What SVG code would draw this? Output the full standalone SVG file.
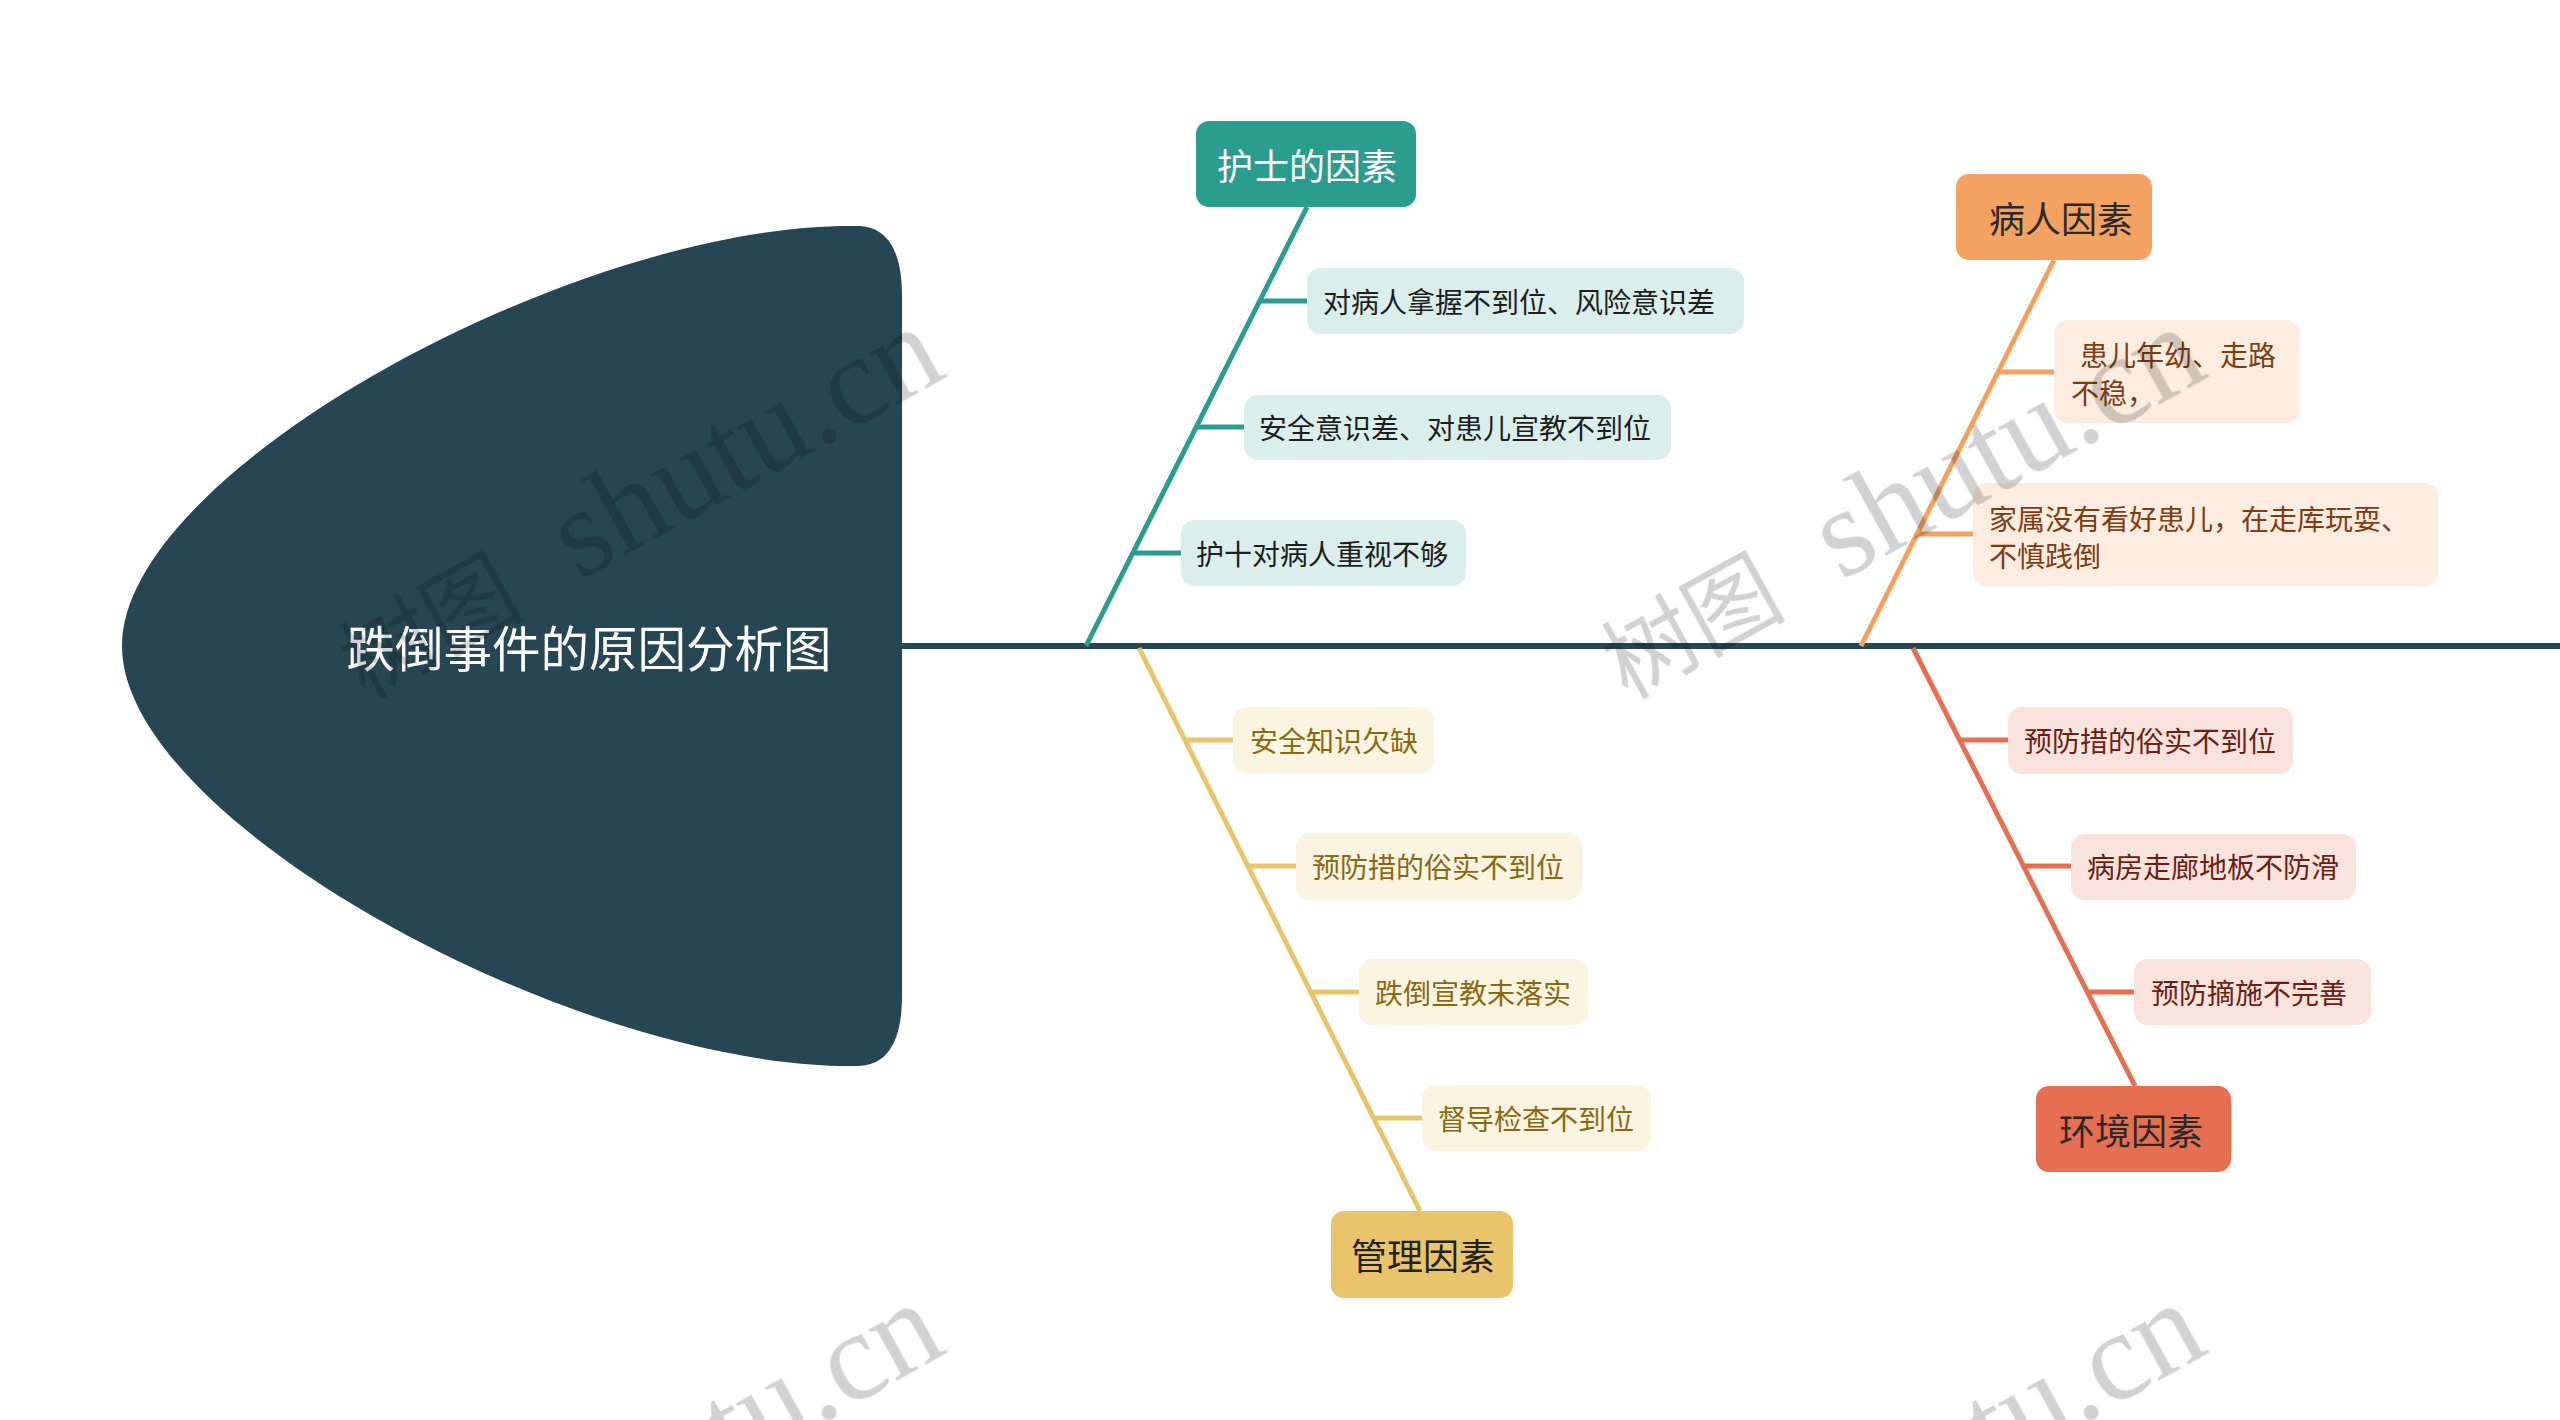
<svg xmlns="http://www.w3.org/2000/svg" width="2560" height="1420" viewBox="0 0 2560 1420">
<style>
text { font-family: "Noto Sans CJK SC", "Noto Sans", sans-serif; dominant-baseline: central; }
.topic { font-size: 36px; text-anchor: middle; }
.sub { font-size: 28px; }
.ln { fill: none; stroke-width: 5; stroke-linecap: butt; }
.teal { stroke: #2a9d8f; }
.yel { stroke: #e9c46a; }
.org { stroke: #f4a261; }
.red { stroke: #e76f51; }
.bt { fill: #daeeeb; }
.by { fill: #fbf4e1; }
.bo { fill: #fdede0; }
.br { fill: #fae3dd; }
.tt { fill: #1e1e1e; }
.ty { fill: #8a6914; }
.to { fill: #7d3c12; }
.tr { fill: #6b1f14; }
.wm { fill: #d2d2d2; }
#watermarks { mix-blend-mode: multiply; }
</style>
<defs>
<g id="wmark">
<text class="wm" transform="rotate(-29)" style="dominant-baseline: alphabetic"><tspan font-size="92" font-family="Noto Sans CJK SC, sans-serif">树图</tspan><tspan x="245" font-size="126" font-family="Liberation Serif, serif">shutu.cn</tspan></text>
</g>
</defs>
<rect width="2560" height="1420" fill="#ffffff"/>

<g id="connectors">
<line x1="902" y1="646" x2="2560" y2="646" stroke="#264653" stroke-width="6"/>
<line class="ln teal" x1="1086" y1="646" x2="1307" y2="207"/>
<line class="ln teal" x1="1260" y1="301" x2="1307" y2="301"/>
<line class="ln teal" x1="1196" y1="427" x2="1244" y2="427"/>
<line class="ln teal" x1="1133" y1="553" x2="1181" y2="553"/>
<line class="ln yel" x1="1139" y1="648" x2="1420" y2="1211"/>
<line class="ln yel" x1="1185" y1="740" x2="1233" y2="740"/>
<line class="ln yel" x1="1248" y1="866" x2="1296" y2="866"/>
<line class="ln yel" x1="1311" y1="992" x2="1359" y2="992"/>
<line class="ln yel" x1="1374" y1="1118" x2="1422" y2="1118"/>
<line class="ln org" x1="1861" y1="646" x2="2054" y2="260"/>
<line class="ln org" x1="1998" y1="372" x2="2054" y2="372"/>
<line class="ln org" x1="1917" y1="534" x2="1973" y2="534"/>
<line class="ln red" x1="1913" y1="648" x2="2135" y2="1086"/>
<line class="ln red" x1="1960" y1="740" x2="2008" y2="740"/>
<line class="ln red" x1="2024" y1="866" x2="2071" y2="866"/>
<line class="ln red" x1="2088" y1="992" x2="2134" y2="992"/>
</g>

<g id="head">
<path d="M 857,226 C 580,222 122,470 122,646 C 122,822 580,1070 857,1066 C 885,1066 902,1045 902,996 L 902,296 C 902,247 885,226 857,226 Z" fill="#264653"/>
<text x="589" y="646" font-size="48.5" fill="#ffffff" text-anchor="middle">跌倒事件的原因分析图</text>
</g>

<g id="nurse">
<rect x="1196" y="121" width="220" height="86" rx="13" fill="#2a9d8f"/>
<text class="topic" x="1307" y="164" fill="#ffffff">护士的因素</text>
</g>
<g id="nurse-1">
<rect class="bt" x="1307" y="268" width="437" height="66" rx="14"/>
<text class="sub tt" x="1323" y="301">对病人拿握不到位、风险意识差</text>
</g>
<g id="nurse-2">
<rect class="bt" x="1244" y="395" width="427" height="65" rx="14"/>
<text class="sub tt" x="1259" y="427">安全意识差、对患儿宣教不到位</text>
</g>
<g id="nurse-3">
<rect class="bt" x="1181" y="520" width="285" height="66" rx="14"/>
<text class="sub tt" x="1196" y="553">护十对病人重视不够</text>
</g>

<g id="management">
<rect x="1331" y="1211" width="182" height="87" rx="13" fill="#e9c46a"/>
<text class="topic" x="1423" y="1254" fill="#222222">管理因素</text>
</g>
<g id="management-1">
<rect class="by" x="1233" y="707" width="201" height="67" rx="14"/>
<text class="sub ty" x="1250" y="740">安全知识欠缺</text>
</g>
<g id="management-2">
<rect class="by" x="1296" y="833" width="286" height="67" rx="14"/>
<text class="sub ty" x="1312" y="866">预防措的俗实不到位</text>
</g>
<g id="management-3">
<rect class="by" x="1359" y="959" width="229" height="66" rx="14"/>
<text class="sub ty" x="1375" y="992">跌倒宣教未落实</text>
</g>
<g id="management-4">
<rect class="by" x="1422" y="1085" width="229" height="66" rx="14"/>
<text class="sub ty" x="1438" y="1118">督导检查不到位</text>
</g>

<g id="patient">
<rect x="1956" y="174" width="196" height="86" rx="13" fill="#f4a261"/>
<text class="topic" x="2061" y="217" fill="#2a2a2a">病人因素</text>
</g>
<g id="patient-1">
<rect class="bo" x="2054" y="320" width="246" height="103" rx="14"/>
<text class="sub to"><tspan x="2080" y="354">患儿年幼、走路</tspan><tspan x="2071" y="392">不稳，</tspan></text>
</g>
<g id="patient-2">
<rect class="bo" x="1973" y="483" width="465" height="103" rx="14"/>
<text class="sub to"><tspan x="1989" y="518">家属没有看好患儿，在走库玩耍、</tspan><tspan x="1989" y="555">不慎践倒</tspan></text>
</g>

<g id="environment">
<rect x="2036" y="1086" width="195" height="86" rx="13" fill="#e76f51"/>
<text class="topic" x="2131" y="1129" fill="#2a2a2a">环境因素</text>
</g>
<g id="environment-1">
<rect class="br" x="2008" y="707" width="285" height="67" rx="14"/>
<text class="sub tr" x="2024" y="740">预防措的俗实不到位</text>
</g>
<g id="environment-2">
<rect class="br" x="2071" y="834" width="285" height="66" rx="14"/>
<text class="sub tr" x="2087" y="866">病房走廊地板不防滑</text>
</g>
<g id="environment-3">
<rect class="br" x="2134" y="959" width="237" height="66" rx="14"/>
<text class="sub tr" x="2151" y="992">预防摘施不完善</text>
</g>

<g id="watermarks">
<use href="#wmark" transform="translate(365,700)"/>
<use href="#wmark" transform="translate(1627,700)"/>
<use href="#wmark" transform="translate(365,1676)"/>
<use href="#wmark" transform="translate(1627,1676)"/>
</g>
</svg>
